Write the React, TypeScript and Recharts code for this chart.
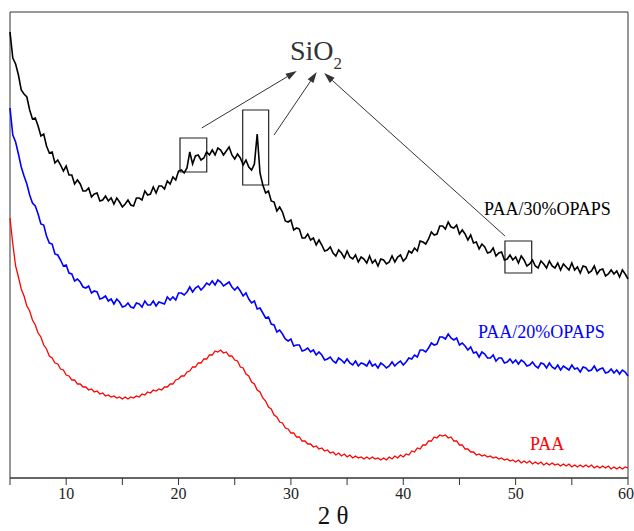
import React from 'react';
import {
    LineChart, Line, XAxis, YAxis, ReferenceArea, ReferenceLine, ReferenceDot
} from 'recharts';

// scan grid: 2θ from 5° to 60°, 0.25° step
const START = 5;
const STEP = 0.25;
const N = 221;
const angles = Array.from({ length: N }, (_, i) => START + i * STEP);

const xTicks = [5, 10, 15, 20, 25, 30, 35, 40, 45, 50, 55, 60];
const xTickLabels = ['', '10', '', '20', '', '30', '', '40', '', '50', '', '60'];

// intensities (a.u., curves stacked with offsets), one row per degree
const paa30 = [
    446, 420, 414, 403, 388, 384, 381, 368, 359, 360, 352, 342, 344, 332, 325, 326,
    315, 318, 313, 307, 312, 303, 303, 294, 298, 294, 287, 287, 290, 281, 284, 285,
    277, 278, 282, 277, 280, 274, 280, 276, 271, 274, 278, 273, 272, 280, 280, 278,
    287, 283, 284, 291, 285, 292, 292, 289, 297, 294, 301, 298, 307, 308, 305, 310,
    326, 314, 322, 323, 318, 320, 326, 323, 328, 323, 330, 328, 323, 327, 331, 323,
    319, 324, 320, 313, 318, 311, 308, 314, 344, 305, 293, 285, 287, 277, 276, 267,
    271, 266, 257, 256, 258, 248, 250, 249, 240, 240, 244, 238, 240, 233, 238, 233,
    227, 228, 231, 225, 222, 228, 225, 220, 227, 221, 219, 223, 216, 221, 219, 215,
    222, 215, 218, 212, 219, 218, 214, 216, 222, 216, 221, 223, 217, 220, 227, 225,
    230, 227, 237, 236, 234, 239, 246, 243, 244, 252, 252, 249, 256, 251, 250, 253,
    244, 248, 244, 238, 243, 235, 236, 229, 234, 231, 225, 226, 230, 222, 225, 226,
    218, 219, 223, 218, 221, 215, 222, 218, 212, 214, 218, 212, 210, 217, 214, 210,
    217, 212, 210, 215, 208, 214, 211, 208, 215, 208, 211, 205, 212, 211, 205, 207,
    212, 204, 208, 209, 202, 204, 208, 204, 207, 201, 208, 204, 199,
];

const paa20 = [
    370, 343, 336, 324, 311, 302, 294, 283, 275, 272, 264, 254, 253, 242, 235, 234,
    224, 223, 218, 212, 213, 205, 204, 197, 199, 196, 191, 190, 192, 185, 187, 186,
    179, 180, 182, 177, 179, 174, 179, 176, 171, 172, 175, 171, 170, 175, 174, 171,
    177, 173, 173, 177, 172, 176, 175, 174, 181, 178, 181, 178, 185, 185, 183, 186,
    191, 186, 190, 192, 188, 191, 195, 193, 197, 193, 198, 196, 192, 194, 196, 191,
    188, 191, 187, 182, 185, 179, 175, 177, 169, 170, 165, 160, 161, 154, 153, 146,
    148, 144, 139, 137, 139, 132, 133, 133, 127, 128, 130, 126, 128, 123, 126, 123,
    118, 119, 121, 117, 115, 120, 118, 115, 119, 115, 113, 117, 112, 115, 114, 112,
    117, 112, 114, 110, 115, 113, 110, 112, 116, 112, 115, 117, 113, 116, 120, 119,
    123, 121, 128, 128, 126, 130, 135, 133, 134, 141, 141, 139, 144, 140, 138, 140,
    133, 135, 132, 128, 131, 125, 126, 121, 126, 124, 120, 120, 123, 117, 120, 120,
    115, 116, 119, 115, 118, 114, 118, 116, 112, 113, 116, 112, 110, 115, 114, 110,
    115, 111, 109, 113, 108, 112, 110, 108, 113, 109, 110, 106, 111, 110, 107, 108,
    112, 107, 109, 110, 105, 106, 109, 105, 108, 104, 108, 106, 102,
];

const paa = [
    260, 234, 212, 201, 189, 182, 172, 167, 158, 153, 145, 141, 133, 129, 122, 120,
    115, 114, 109, 108, 103, 102, 98, 98, 94, 94, 91, 91, 88, 89, 86, 87,
    84, 85, 82, 83, 81, 82, 80, 81, 79, 81, 79, 81, 80, 82, 81, 84,
    83, 86, 85, 88, 87, 89, 88, 91, 91, 94, 94, 98, 99, 102, 102, 106,
    107, 111, 111, 115, 115, 119, 119, 123, 123, 127, 126, 128, 125, 126, 122, 122,
    118, 117, 111, 110, 104, 102, 96, 94, 88, 86, 80, 77, 71, 69, 63, 61,
    56, 55, 50, 49, 45, 45, 41, 41, 37, 37, 34, 34, 31, 32, 29, 30,
    27, 28, 25, 26, 23, 25, 22, 24, 21, 23, 20, 22, 20, 21, 19, 21,
    19, 21, 19, 20, 18, 20, 18, 21, 19, 22, 20, 23, 21, 24, 23, 27,
    26, 30, 29, 33, 33, 37, 37, 41, 40, 43, 42, 43, 40, 41, 37, 37,
    33, 33, 29, 29, 26, 26, 23, 24, 22, 23, 21, 22, 20, 21, 19, 20,
    18, 19, 17, 18, 16, 18, 15, 17, 15, 17, 14, 16, 14, 16, 13, 15,
    13, 15, 13, 14, 12, 14, 12, 14, 11, 13, 11, 13, 11, 13, 11, 13,
    10, 12, 10, 12, 10, 12, 9, 11, 9, 11, 9, 11, 10,
];

// SiO2 marker boxes [x1, x2, y1, y2]
const boxes = [
    [20.13, 22.51, 306, 340],
    [25.71, 28.02, 293, 368],
    [49.05, 51.43, 205, 237],
];

// arrows from the boxes to the SiO2 label
const arrows = [
    [22.06, 350, 30.52, 407],
    [28.5, 343, 32.3, 406],
    [49.05, 242, 32.95, 405],
];

const data = angles.map((a, i) => ({ angle: a, paa30: paa30[i], paa20: paa20[i], paa: paa[i] }));

const SERIF = '"Liberation Serif", "Times New Roman", serif';

const Arrow = (props: any) => {
    const { x1, y1, x2, y2 } = props;
    const ang = Math.atan2(y2 - y1, x2 - x1);
    const len = 11, half = 3.5;
    const bx = x2 - len * Math.cos(ang), by = y2 - len * Math.sin(ang);
    const px = -Math.sin(ang) * half, py = Math.cos(ang) * half;
    return (
        <g>
            <line x1={x1} y1={y1} x2={bx} y2={by} stroke="#333" strokeWidth={1} />
            <polygon points={`${x2},${y2} ${bx + px},${by + py} ${bx - px},${by - py}`} fill="#333" />
        </g>
    );
};

const seriesLabel = (text: string, color: string) => (props: any) => (
    <text x={props.cx} y={props.cy} fill={color} fontSize={18} fontFamily={SERIF}>{text}</text>
);

const sioLabel = (props: any) => (
    <text x={props.cx} y={props.cy} fill="#333" fontSize={28} fontFamily={SERIF}>
        SiO<tspan fontSize={17} dy={9}>2</tspan>
    </text>
);

export default function App() {
    return (
        <div style={{ width: 634, height: 531, background: '#fff' }}>
            <style>{'body{margin:0}'}</style>
            <LineChart width={634} height={531} data={data} margin={{ top: 12, right: 6, left: 10, bottom: 0 }}>
                <XAxis
                    dataKey="angle"
                    type="number"
                    domain={[5, 60]}
                    ticks={xTicks}
                    tickFormatter={(v: number) => xTickLabels[xTicks.indexOf(v)] ?? ''}
                    height={53}
                    tickSize={7}
                    tickMargin={3}
                    stroke="#333"
                    tick={{ fill: '#222', fontSize: 16, fontFamily: SERIF }}
                    label={{ value: '2 θ', position: 'insideBottom', offset: 7, dx: 14, fontSize: 25, fill: '#111', fontFamily: SERIF }}
                />
                <YAxis hide domain={[0, 466]} allowDataOverflow />
                <ReferenceArea x1={5} x2={60} y1={0} y2={466} fill="none" stroke="#333" strokeWidth={1} />
                {boxes.map((b, i) => (
                    <ReferenceArea key={'b' + i} x1={b[0]} x2={b[1]} y1={b[2]} y2={b[3]} fill="none" fillOpacity={0} stroke="#222" strokeWidth={1.2} />
                ))}
                {arrows.map((a, i) => (
                    <ReferenceLine key={'a' + i} segment={[{ x: a[0], y: a[1] }, { x: a[2], y: a[3] }]} shape={Arrow} />
                ))}
                <Line type="linear" dataKey="paa" stroke="#ff0000" strokeWidth={1.3} dot={false} isAnimationActive={false} />
                <Line type="linear" dataKey="paa20" stroke="#0000ff" strokeWidth={1.6} dot={false} isAnimationActive={false} />
                <Line type="linear" dataKey="paa30" stroke="#000000" strokeWidth={1.6} dot={false} isAnimationActive={false} />
                <ReferenceDot x={47.19} y={263} r={0} shape={seriesLabel('PAA/30%OPAPS', '#000')} />
                <ReferenceDot x={46.65} y={140} r={0} shape={seriesLabel('PAA/20%OPAPS', '#0000ff')} />
                <ReferenceDot x={51.28} y={28} r={0} shape={seriesLabel('PAA', '#ff0000')} />
                <ReferenceDot x={29.92} y={418} r={0} shape={sioLabel} />
            </LineChart>
        </div>
    );
}
